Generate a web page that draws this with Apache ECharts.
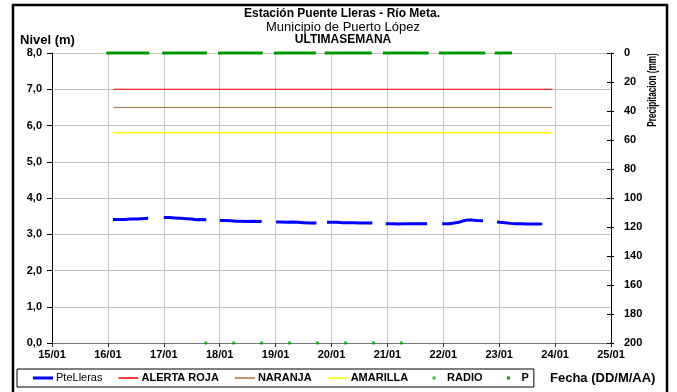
<!DOCTYPE html>
<html><head><meta charset="utf-8">
<script src="https://cdn.jsdelivr.net/npm/echarts@6/dist/echarts.min.js"></script>
<style>html,body{margin:0;padding:0;background:#fff}#c{width:677px;height:392px}</style>
</head><body><div id="c"></div>
<script>
// ---- data ----
const xTickLabels = ['15/01','16/01','17/01','18/01','19/01','20/01','21/01','22/01','23/01','24/01','25/01'];
const nivelDias = [
  16.09,16.2,16.3,16.4,16.5,16.6,16.72,16.85,
  17.00,17.1,17.2,17.3,17.4,17.5,17.58,17.66,17.76,17.88,
  18.00,18.1,18.2,18.3,18.4,18.5,18.6,18.75,18.88,
  19.01,19.1,19.2,19.3,19.4,19.5,19.6,19.73,19.83,
  19.92,20.0,20.1,20.2,20.3,20.4,20.5,20.6,20.73,20.85,
  20.97,21.1,21.2,21.3,21.4,21.5,21.6,21.71,21.85,
  21.98,22.1,22.2,22.3,22.36,22.42,22.5,22.6,22.71,22.85,
  22.96,23.1,23.2,23.3,23.4,23.5,23.6,23.77
];
const nivelValores = [
  3.41,3.41,3.41,3.42,3.42,3.43,3.44,null,
  3.46,3.46,3.45,3.44,3.43,3.42,3.40,3.41,3.40,null,
  3.38,3.38,3.37,3.36,3.36,3.35,3.36,3.35,null,
  3.34,3.34,3.33,3.34,3.33,3.32,3.31,3.31,null,
  3.33,3.33,3.33,3.32,3.32,3.32,3.31,3.31,3.31,null,
  3.29,3.29,3.28,3.29,3.29,3.29,3.29,3.29,null,
  3.29,3.29,3.31,3.34,3.37,3.39,3.39,3.38,3.37,null,
  3.34,3.32,3.30,3.29,3.29,3.28,3.28,3.28
];
const umbralDias = [16.1, 23.95];
const alertaRoja = [7.0, 7.0];
const naranja = [6.5, 6.5];
const amarilla = [5.8, 5.8];
const radioDias = [17.75,18.25,18.75,19.25,19.75,20.25,20.75,21.25];
const radioValores = [0,0,0,0,0,0,0,0];
const pDias = [15.97,16.74,16.85, 16.97,17.77,17.87, 17.97,18.77,18.87, 18.97,19.72,19.8,
               19.88,20.72,20.82, 20.92,21.74,21.83, 21.92,22.75,22.83, 22.92,23.23];
const pValores = [0,0,null, 0,0,null, 0,0,null, 0,0,null, 0,0,null, 0,0,null, 0,0,null, 0,0];

const FONT = 'Liberation Sans, Arial, sans-serif';
const pair = (xs, ys) => xs.map((x, i) => [x, ys[i] === null ? '-' : ys[i]]);
const dotIcon = 'path://M0,0M20,0M20,12M0,12M8.5,4.5h3v3h-3z';
const thinLineIcon = 'path://M0,0M20,0M20,12M0,12M0,5.25h20v1.5h-20z';
const thickLineIcon = 'path://M0,0M20,0M20,12M0,12M0,4.5h20v3h-20z';

const chart = echarts.init(document.getElementById('c'), null, {renderer: 'canvas'});
const lbl = {color: '#000', fontFamily: FONT, fontWeight: 'bold', fontSize: 11};
chart.setOption({
  animation: false,
  backgroundColor: '#fff',
  grid: {left: 52, right: 66, top: 53, bottom: 49, containLabel: false},
  xAxis: {
    type: 'value', min: 15, max: 25, interval: 1,
    axisLine: {lineStyle: {color: '#777', width: 1}},
    axisTick: {show: true, length: 4, lineStyle: {color: '#333'}},
    axisLabel: Object.assign({margin: 6, formatter: v => xTickLabels[Math.round(v - 15)]}, lbl),
    splitLine: {show: true, lineStyle: {color: '#c8c8c8', width: 1}}
  },
  yAxis: [
    {
      type: 'value', min: 0, max: 8, interval: 1, position: 'left',
      axisLine: {show: true, lineStyle: {color: '#000'}},
      axisTick: {show: true, length: 5, lineStyle: {color: '#000'}},
      axisLabel: Object.assign({margin: 10, formatter: v => v.toFixed(1).replace('.', ',')}, lbl),
      splitLine: {show: true, lineStyle: {color: '#c0c0c0', width: 1}}
    },
    {
      type: 'value', min: 0, max: 200, interval: 20, inverse: true, position: 'right',
      axisLine: {show: true, lineStyle: {color: '#000'}},
      axisTick: {show: true, length: 3, lineStyle: {color: '#000'}},
      axisLabel: Object.assign({margin: 13}, lbl),
      splitLine: {show: false}
    },
    {
      type: 'value', min: 0, max: 200, interval: 20, inverse: true, position: 'right',
      axisLine: {show: false},
      axisTick: {show: true, inside: true, length: 4, lineStyle: {color: '#000'}},
      axisLabel: {show: false},
      splitLine: {show: false}
    }
  ],
  legend: {
    left: 17, top: 369, orient: 'horizontal',
    padding: [3, 5, 3, 16], itemGap: 16, itemWidth: 20, itemHeight: 12,
    borderColor: '#000', borderWidth: 1, backgroundColor: '#fff',
    textStyle: {color: '#000', fontFamily: FONT, fontWeight: 'bold', fontSize: 11, padding: [0, 0, 0, -2]},
    data: [
      {name: 'PteLleras', icon: thickLineIcon, textStyle: {fontWeight: 'normal'}},
      {name: 'ALERTA ROJA', icon: thinLineIcon}, {name: 'NARANJA', icon: thinLineIcon},
      {name: 'AMARILLA', icon: thinLineIcon},
      {name: 'RADIO', icon: dotIcon}, {name: 'P', icon: dotIcon}
    ]
  },
  graphic: [
    {type: 'rect', shape: {x: 13, y: 5, width: 654, height: 392}, style: {fill: 'none', stroke: '#000', lineWidth: 2.5}, silent: true},
    {type: 'text', x: 342, y: 14, style: {text: 'Estación Puente Lleras - Río Meta.', font: 'bold 12px ' + FONT, fill: '#000', textAlign: 'center', textVerticalAlign: 'middle'}},
    {type: 'text', x: 343, y: 27, style: {text: 'Municipio de Puerto López', font: '13px ' + FONT, fill: '#000', textAlign: 'center', textVerticalAlign: 'middle'}},
    {type: 'text', x: 343, y: 40, style: {text: 'ULTIMASEMANA', font: 'bold 12px ' + FONT, fill: '#000', textAlign: 'center', textVerticalAlign: 'middle'}},
    {type: 'text', x: 20, y: 40, style: {text: 'Nivel (m)', font: 'bold 13px ' + FONT, fill: '#000', textAlign: 'left', textVerticalAlign: 'middle'}},
    {type: 'text', x: 653, y: 90, rotation: Math.PI / 2, scaleX: 0.68, style: {text: 'Precipitacion (mm)', font: 'bold 12px ' + FONT, fill: '#000', textAlign: 'center', textVerticalAlign: 'middle'}},
    {type: 'text', x: 550, y: 378, style: {text: 'Fecha (DD/M/AA)', font: 'bold 13px ' + FONT, fill: '#000', textAlign: 'left', textVerticalAlign: 'middle'}}
  ],
  series: [
    {name: 'PteLleras', type: 'line', yAxisIndex: 0, symbol: 'none', connectNulls: false,
     color: '#0000ff', lineStyle: {color: '#0000ff', width: 3}, data: pair(nivelDias, nivelValores), z: 5},
    {name: 'ALERTA ROJA', type: 'line', yAxisIndex: 0, symbol: 'none', color: '#ff0000',
     lineStyle: {color: '#ff0000', width: 1}, data: pair(umbralDias, alertaRoja)},
    {name: 'NARANJA', type: 'line', yAxisIndex: 0, symbol: 'none', color: '#a0703f',
     lineStyle: {color: '#a0703f', width: 1}, data: pair(umbralDias, naranja)},
    {name: 'AMARILLA', type: 'line', yAxisIndex: 0, symbol: 'none', color: '#ffff00',
     lineStyle: {color: '#ffff00', width: 1.5}, data: pair(umbralDias, amarilla)},
    {name: 'RADIO', type: 'scatter', yAxisIndex: 0, symbol: 'rect', symbolSize: 3, clip: false,
     itemStyle: {color: '#00a000'}, data: pair(radioDias, radioValores), z: 6},
    {name: 'P', type: 'line', yAxisIndex: 1, symbol: 'none', clip: false, connectNulls: false,
     color: '#009900', lineStyle: {color: '#009900', width: 3}, data: pair(pDias, pValores), z: 6}
  ]
});
</script></body></html>
